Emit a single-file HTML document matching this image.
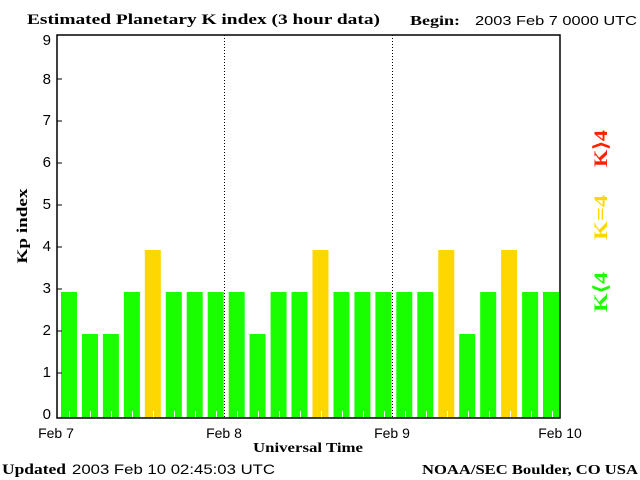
<!DOCTYPE html>
<html><head><meta charset="utf-8"><style>
html,body{margin:0;padding:0;background:#fff;}
svg{display:block}
.s{font-family:"Liberation Serif",serif;font-weight:bold}
.a{font-family:"Liberation Sans",sans-serif}
</style></head><body>
<svg width="640" height="480" viewBox="0 0 640 480" xmlns="http://www.w3.org/2000/svg">
<rect width="640" height="480" fill="#fff"/>
<text x="27" y="24" class="s" font-size="15" textLength="353" lengthAdjust="spacingAndGlyphs">Estimated Planetary K index (3 hour data)</text>
<text x="410" y="25" class="s" font-size="14" textLength="50" lengthAdjust="spacingAndGlyphs">Begin:</text>
<text x="475" y="25" class="a" font-size="13" textLength="162" lengthAdjust="spacingAndGlyphs">2003 Feb 7 0000 UTC</text>
<g>
<rect x="61.0" y="292" width="16" height="126" fill="#1aff00"/>
<rect x="82.0" y="334" width="16" height="84" fill="#1aff00"/>
<rect x="102.9" y="334" width="16" height="84" fill="#1aff00"/>
<rect x="123.9" y="292" width="16" height="126" fill="#1aff00"/>
<rect x="144.8" y="250" width="16" height="168" fill="#ffd700"/>
<rect x="165.8" y="292" width="16" height="126" fill="#1aff00"/>
<rect x="186.7" y="292" width="16" height="126" fill="#1aff00"/>
<rect x="207.7" y="292" width="16" height="126" fill="#1aff00"/>
<rect x="228.7" y="292" width="16" height="126" fill="#1aff00"/>
<rect x="249.6" y="334" width="16" height="84" fill="#1aff00"/>
<rect x="270.6" y="292" width="16" height="126" fill="#1aff00"/>
<rect x="291.5" y="292" width="16" height="126" fill="#1aff00"/>
<rect x="312.5" y="250" width="16" height="168" fill="#ffd700"/>
<rect x="333.5" y="292" width="16" height="126" fill="#1aff00"/>
<rect x="354.4" y="292" width="16" height="126" fill="#1aff00"/>
<rect x="375.4" y="292" width="16" height="126" fill="#1aff00"/>
<rect x="396.3" y="292" width="16" height="126" fill="#1aff00"/>
<rect x="417.3" y="292" width="16" height="126" fill="#1aff00"/>
<rect x="438.3" y="250" width="16" height="168" fill="#ffd700"/>
<rect x="459.2" y="334" width="16" height="84" fill="#1aff00"/>
<rect x="480.2" y="292" width="16" height="126" fill="#1aff00"/>
<rect x="501.1" y="250" width="16" height="168" fill="#ffd700"/>
<rect x="522.1" y="292" width="16" height="126" fill="#1aff00"/>
<rect x="543.0" y="292" width="16" height="126" fill="#1aff00"/>
</g>
<g stroke="#fff" stroke-width="1">
<path d="M69.5,411V418M90.5,411V418M111.5,411V418M132.5,411V418M153.5,411V418M174.5,411V418M195.5,411V418M216.5,411V418M237.5,411V418M258.5,411V418M279.5,411V418M300.5,411V418M321.5,411V418M342.5,411V418M363.5,411V418M384.5,411V418M405.5,411V418M426.5,411V418M447.5,411V418M468.5,411V418M489.5,411V418M510.5,411V418M531.5,411V418M552.5,411V418"/>
</g>
<line x1="224.5" y1="35" x2="224.5" y2="418" stroke="#000" stroke-dasharray="1,2"/>
<line x1="392.5" y1="35" x2="392.5" y2="418" stroke="#000" stroke-dasharray="1,2"/>
<path d="M57,35 H560 V418 H57 Z" fill="none" stroke="#000" stroke-width="1.5"/>
<g class="a" font-size="15" text-anchor="end">
<text x="51" y="419">0</text><text x="51" y="377">1</text><text x="51" y="335">2</text><text x="51" y="293">3</text><text x="51" y="251">4</text><text x="51" y="209">5</text><text x="51" y="167">6</text><text x="51" y="125">7</text><text x="51" y="84">8</text><text x="51" y="45">9</text>
</g>
<g stroke="#000">
<line x1="57" y1="79" x2="62" y2="79"/><line x1="57" y1="121" x2="62" y2="121"/><line x1="57" y1="163" x2="62" y2="163"/><line x1="57" y1="205" x2="62" y2="205"/><line x1="57" y1="247" x2="62" y2="247"/><line x1="57" y1="289" x2="62" y2="289"/><line x1="57" y1="331" x2="62" y2="331"/><line x1="57" y1="373" x2="62" y2="373"/>
</g>
<text transform="translate(27,226) rotate(-90)" text-anchor="middle" class="s" font-size="15" textLength="75" lengthAdjust="spacingAndGlyphs">Kp index</text>
<g class="a" font-size="14" text-anchor="middle">
<text x="56" y="438">Feb 7</text><text x="224" y="438">Feb 8</text><text x="392" y="438">Feb 9</text><text x="560" y="438">Feb 10</text>
</g>
<text x="253" y="452" class="s" font-size="14" textLength="110" lengthAdjust="spacingAndGlyphs">Universal Time</text>
<text x="2" y="474" class="s" font-size="15" textLength="64" lengthAdjust="spacingAndGlyphs">Updated</text>
<text x="72" y="474" class="a" font-size="14" textLength="203" lengthAdjust="spacingAndGlyphs">2003 Feb 10 02:45:03 UTC</text>
<text x="422" y="474" class="s" font-size="14" textLength="216" lengthAdjust="spacingAndGlyphs">NOAA/SEC Boulder, CO USA</text>
<text transform="translate(607,167) rotate(-90)" class="s" font-size="19" fill="#ff2000" textLength="37" lengthAdjust="spacingAndGlyphs">K⟩4</text>
<text transform="translate(607,240) rotate(-90)" class="s" font-size="19" fill="#ffd700" textLength="45" lengthAdjust="spacingAndGlyphs">K=4</text>
<text transform="translate(607,312) rotate(-90)" class="s" font-size="19" fill="#1aff00" textLength="40" lengthAdjust="spacingAndGlyphs">K⟨4</text>
</svg>
</body></html>
